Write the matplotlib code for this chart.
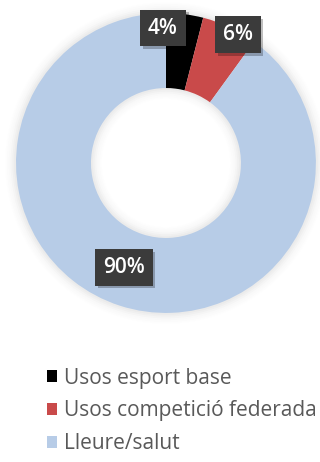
import numpy as np
import matplotlib.pyplot as plt
import matplotlib.patheffects as pe
from matplotlib.patches import Patch

plt.rcParams['font.family'] = ['Open Sans', 'DejaVu Sans']

labels = ['Usos esport base', 'Usos competició federada', 'Lleure/salut']
values = [4, 6, 90]
colors = ['#000000', '#C94A4A', '#B7CCE7']

# label placement: (radius, angle nudge in degrees) per slice
label_pos = [(0.90, 8.5), (0.98, -4.0), (0.75, -4.0)]

fig = plt.figure(figsize=(3.2, 4.62), dpi=100)
ax = fig.add_axes([0.0266, 0.3063, 0.984, 0.6818])

# soft shadow around the ring
for i, a in enumerate(np.linspace(0.1, 0.02, 6)):
    ax.pie([1], radius=1.0 + 0.012 * (i + 1), colors=['#c8c8c8'],
           wedgeprops=dict(width=0.5 + 0.024 * (i + 1), alpha=a, linewidth=0))

wedges, _ = ax.pie(values, colors=colors, startangle=90, counterclock=False,
                   radius=1.0, wedgeprops=dict(width=0.5, linewidth=0))

for w, v, (r, nudge) in zip(wedges, values, label_pos):
    ang = np.deg2rad((w.theta1 + w.theta2) / 2 + nudge)
    t = ax.text(r * np.cos(ang), r * np.sin(ang), f'{v}%', ha='center', va='center',
                color='white', fontsize=15, fontweight='semibold',
                bbox=dict(boxstyle='square,pad=0.38', fc='#3b3b3b', ec='none'))
    t.get_bbox_patch().set_path_effects([
        pe.SimplePatchShadow(offset=(2, -2), shadow_rgbFace='#000000', alpha=0.25),
        pe.Normal()])

ax.set_xlim(-1.05, 1.05)
ax.set_ylim(-1.05, 1.05)
ax.set_aspect('equal')
ax.axis('off')

handles = [Patch(facecolor=c, edgecolor='none') for c in colors]
fig.legend(handles, labels, loc='upper left', bbox_to_anchor=(0.147, 0.204),
           frameon=False, fontsize=15, labelcolor='#595959',
           handlelength=0.5, handleheight=0.5, handletextpad=0.3,
           labelspacing=0.56, borderaxespad=0, borderpad=0)

fig.savefig('out.png', dpi=100, facecolor='white')
